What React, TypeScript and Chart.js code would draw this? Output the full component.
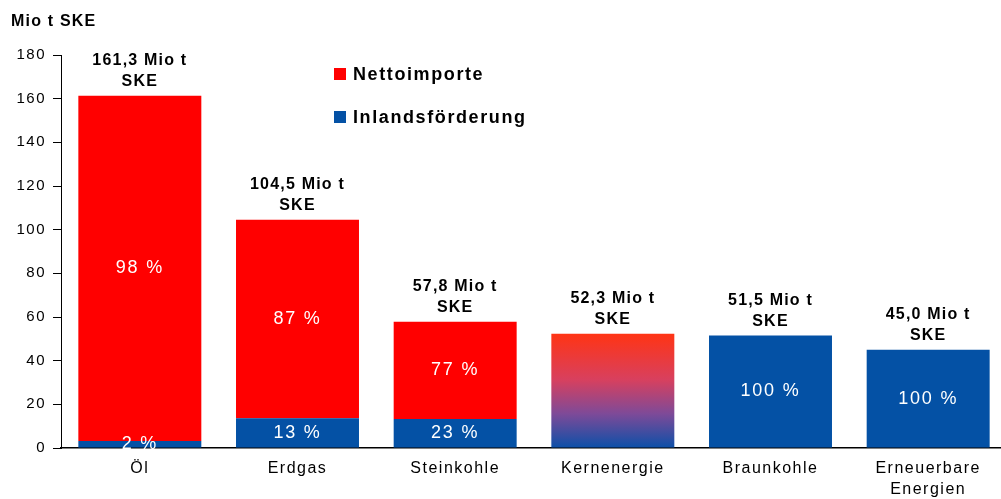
import React, { useEffect, useRef } from 'react';
import { Chart, registerables } from 'chart.js';

Chart.register(...registerables);

const categories: (string | string[])[] = ['Öl', 'Erdgas', 'Steinkohle', 'Kernenergie', 'Braunkohle', ['Erneuerbare', 'Energien']];
const totals = [161.3, 104.5, 57.8, 52.3, 51.5, 45.0];
const inlandValues = [3.2, 13.6, 13.3, null, 51.5, 45.0];
const nettoValues = [158.1, 90.9, 44.5, null, null, null];
const kernValues = [null, null, null, 52.3, null, null];
const inlandPct = [2, 13, 23, null, 100, 100];
const nettoPct = [98, 87, 77, null, null, null];
const yMin = 0;
const yMax = 180;
const yStep = 20;
const unitTitle = 'Mio t SKE';
const unitLine1 = 'Mio t';
const unitLine2 = 'SKE';

const RED = '#ff0000';
const BLUE = '#0451a5';
const FONT = '"Liberation Sans", Arial, Helvetica, sans-serif';

const W = 1010;
const H = 499;

const labelsPlugin = {
  id: 'customLabels',
  beforeDraw(chart: any) {
    chart.ctx.letterSpacing = '1.5px';
  },
  afterDatasetsDraw(chart: any) {
    const ctx = chart.ctx as CanvasRenderingContext2D;
    ctx.save();
    // percentage labels inside segments
    const pctSets: [number, (number | null)[]][] = [
      [0, inlandPct],
      [1, nettoPct],
    ];
    ctx.fillStyle = '#ffffff';
    ctx.font = `18px ${FONT}`;
    (ctx as any).letterSpacing = '1.8px';
    ctx.textAlign = 'center';
    ctx.textBaseline = 'middle';
    pctSets.forEach(([dsIndex, pcts]) => {
      const meta = chart.getDatasetMeta(dsIndex);
      meta.data.forEach((el: any, i: number) => {
        const p = pcts[i];
        if (p == null) return;
        const cy = (el.y + el.base) / 2;
        ctx.fillText(`${p} %`, el.x, cy);
      });
    });

    // total labels above bars
    ctx.fillStyle = '#000000';
    ctx.font = `bold 16px ${FONT}`;
    (ctx as any).letterSpacing = '1.2px';
    const xs = chart.scales.x;
    const ys = chart.scales.y;
    totals.forEach((t, i) => {
      const x = xs.getPixelForValue(i);
      const top = ys.getPixelForValue(t);
      ctx.fillText(`${t.toFixed(1).replace('.', ',')} ${unitLine1}`, x, top - 35);
      ctx.fillText(unitLine2, x, top - 14);
    });

    // axis unit title
    ctx.textAlign = 'left';
    ctx.fillText(unitTitle, 11, 22);

    // legend
    const legendItems = [
      { label: chart.data.datasets[1].label, color: RED, y: 74 },
      { label: chart.data.datasets[0].label, color: BLUE, y: 117 },
    ];
    ctx.font = `bold 18px ${FONT}`;
    (ctx as any).letterSpacing = '1.6px';
    legendItems.forEach((it) => {
      ctx.fillStyle = it.color;
      ctx.fillRect(334, it.y - 6, 12, 12);
      ctx.fillStyle = '#000000';
      ctx.fillText(it.label, 353, it.y + 1);
    });
    ctx.restore();
  },
};

export default function App() {
  const canvasRef = useRef<HTMLCanvasElement | null>(null);

  useEffect(() => {
    const canvas = canvasRef.current;
    if (!canvas) return;
    const chart = new Chart(canvas, {
      type: 'bar',
      data: {
        labels: categories as any,
        datasets: [
          {
            label: 'Inlandsförderung',
            data: inlandValues as any,
            backgroundColor: BLUE,
            borderWidth: 0,
          },
          {
            label: 'Nettoimporte',
            data: nettoValues as any,
            backgroundColor: RED,
            borderWidth: 0,
          },
          {
            label: 'Kernenergie',
            data: kernValues as any,
            borderWidth: 0,
            backgroundColor: (c: any) => {
              const ch = c.chart;
              const { chartArea, scales } = ch;
              if (!chartArea || !scales.y) return '#c8416e';
              const top = scales.y.getPixelForValue(totals[c.dataIndex] ?? 0);
              const bottom = scales.y.getPixelForValue(0);
              const g = ch.ctx.createLinearGradient(0, top, 0, bottom);
              g.addColorStop(0, '#ff3414');
              g.addColorStop(0.4, '#d8405e');
              g.addColorStop(0.7, '#7e4a98');
              g.addColorStop(1, '#0c50a8');
              return g;
            },
          },
        ],
      },
      options: {
        responsive: false,
        animation: false,
        devicePixelRatio: 1,
        layout: { padding: { top: 55, right: 3, bottom: 0, left: 0 } },
        datasets: {
          bar: { categoryPercentage: 1, barPercentage: 0.78 },
        },
        plugins: {
          legend: { display: false },
          tooltip: { enabled: false },
          title: { display: false },
        },
        scales: {
          x: {
            stacked: true,
            z: 1,
            grid: { display: false, drawTicks: false },
            border: { display: true, color: '#000000', width: 1.5 },
            ticks: {
              color: '#000000',
              font: { family: FONT, size: 16, lineHeight: 1.3 },
              padding: 10,
              maxRotation: 0,
              autoSkip: false,
            },
            afterFit: (scale: any) => {
              scale.height = 51;
            },
          },
          y: {
            stacked: true,
            min: yMin,
            max: yMax,
            grid: { drawOnChartArea: false, drawTicks: true, tickLength: 8, color: '#000000' },
            border: { display: true, color: '#000000', width: 1 },
            ticks: {
              stepSize: yStep,
              color: '#000000',
              font: { family: FONT, size: 15 },
              padding: 7,
            },
            afterFit: (scale: any) => {
              scale.width = 61;
            },
          },
        },
      },
      plugins: [labelsPlugin],
    });
    return () => chart.destroy();
  }, []);

  return (
    <div style={{ position: 'fixed', left: 0, top: 0, width: 1001, height: H, overflow: 'hidden', background: '#fff' }}>
      <canvas ref={canvasRef} width={W} height={H} style={{ width: W, height: H, display: 'block' }} />
    </div>
  );
}
